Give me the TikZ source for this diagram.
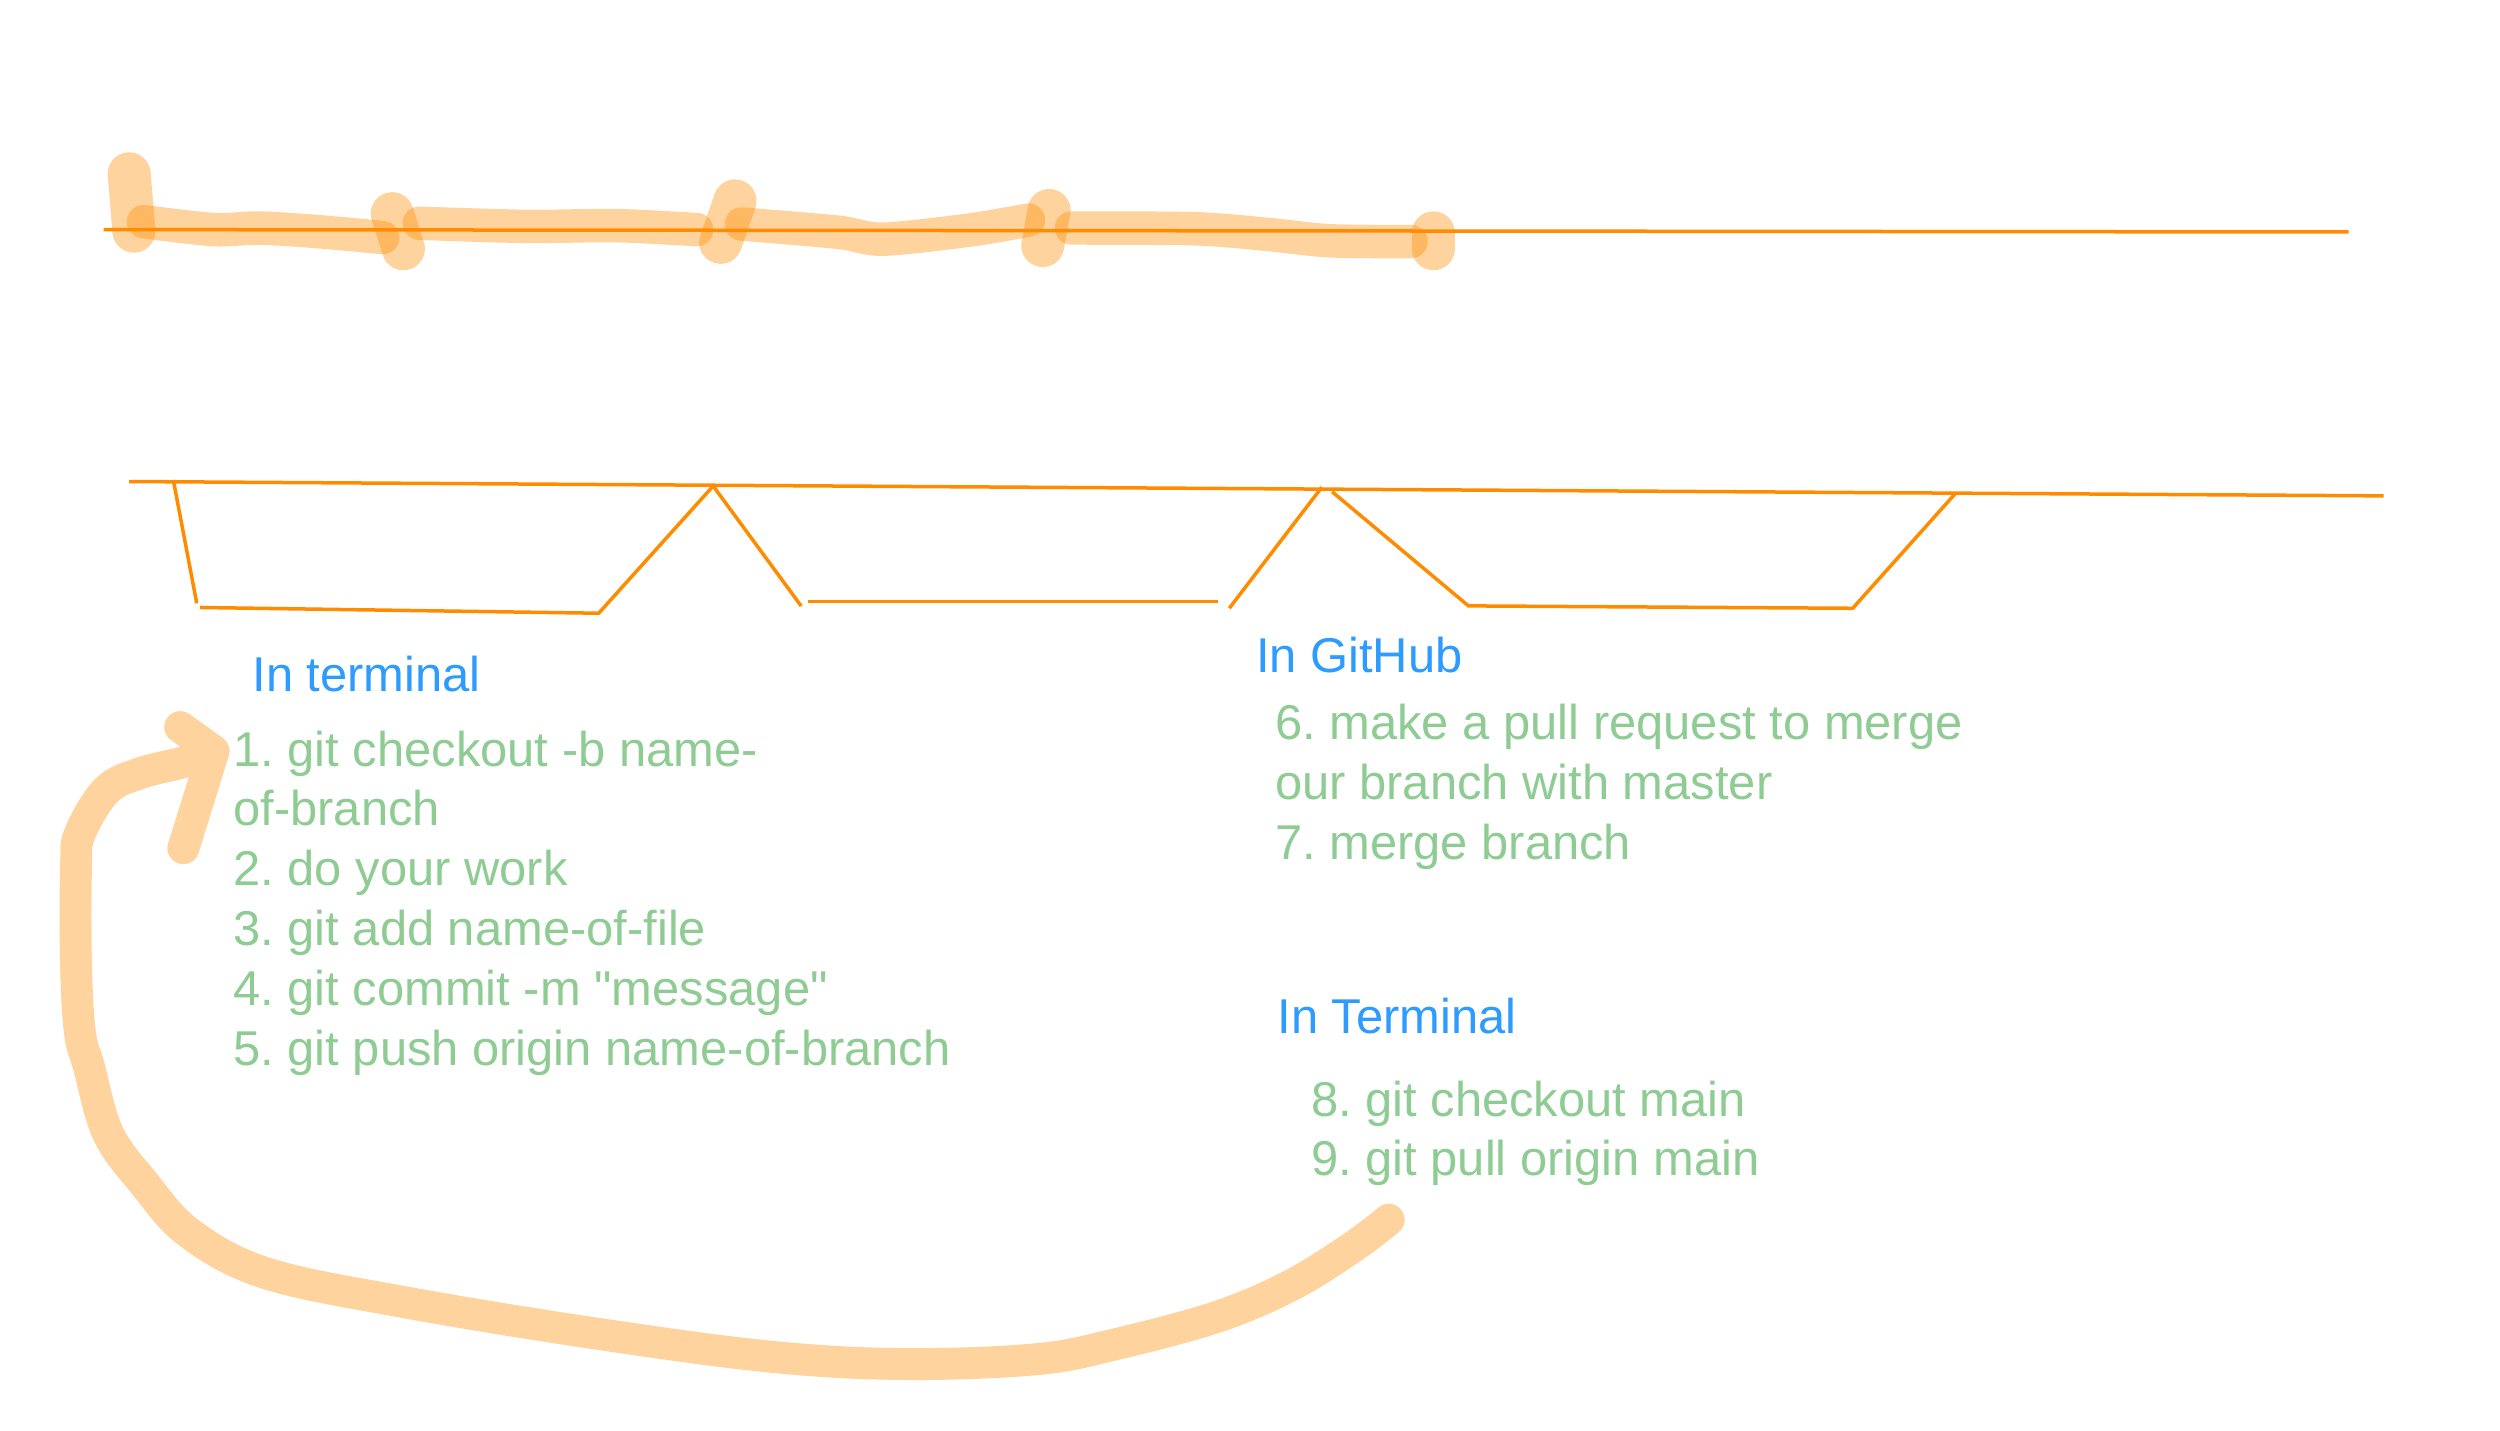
\documentclass[tikz,border=0pt]{standalone}
\usepackage{fontspec}
\setmainfont{Liberation Sans}[Ligatures=TeXOff]
\definecolor{lineorange}{RGB}{255,140,0}
\definecolor{txtblue}{RGB}{46,155,254}
\definecolor{txtgreen}{RGB}{143,204,147}
\definecolor{hlsolid}{RGB}{255,211,158}
\begin{document}
\frenchspacing
\begin{tikzpicture}[x=0.02cm, y=-0.02cm,
  branch/.style={draw=lineorange, line width=1.25pt},
  hl/.style={draw=lineorange, draw opacity=0.38, line width=0.42cm, line cap=round, line join=round},
  blob/.style={hl, line width=0.54cm},
  loopstroke/.style={draw=hlsolid, line width=0.40cm, line cap=round, line join=round},
  lbl/.style={anchor=base west, inner sep=0pt, font=\fontsize{17.45}{21.4}\selectfont},
  head/.style={lbl, text=txtblue},
  item/.style={lbl, text=txtgreen}]
\useasboundingbox (0,0) rectangle (1568,897);

% top (main) line
\coordinate (t0) at (65,144);
\coordinate (t1) at (1473,145.5);
\draw[branch] (t0) -- (t1);

% highlighted commits on main line
\draw[blob] (81,109) -- (84,145);
\draw[hl] plot[smooth] coordinates {(90,139) (134,144) (162,143) (196,145) (230,148) (240,149)};
\draw[blob] (246,134) -- (253,156);
\draw[hl] plot[smooth] coordinates {(263,140) (330,142) (386,141.5) (437,144)};
\draw[blob] (461,126) -- (452,152);
\draw[hl] plot[smooth] coordinates {(465,140.5) (526,145.7) (554,150) (610,144) (645,138)};
\draw[blob] (658,132) -- (654,154);
\draw[hl] plot[smooth] coordinates {(672,143) (750,143.5) (795,147) (834,151) (885,151.5)};
\draw[blob] (899,146) -- (899,156);

% second line with branches
\coordinate (m0) at (81,302);
\coordinate (m1) at (1495,311);
\draw[branch] (m0) -- (m1);
\draw[branch] (108.7,301) -- (123.4,378.4);
\draw[branch] (125.3,381) -- (375.5,384.6) -- (447.3,304.8) -- (502.5,380.1);
\draw[branch] (507,377.3) -- (763.7,377.3);
\draw[branch] (771,381.5) -- (829,305.6);
\draw[branch] (835.5,308.4) -- (921,380) -- (1162,381.5) -- (1226.5,309.4);

% texts
\node[head] (hT1) at (158,434) {In terminal};
\node[item] (s1)  at (146,480.5) {1. git checkout -b name-};
\node[item] (s1b) at (146,518) {of-branch};
\node[item] (s2)  at (146,555.5) {2. do your work};
\node[item] (s3)  at (146,593) {3. git add name-of-file};
\node[item] (s4)  at (146,630.5) {4. git commit -m "message"};
\node[item] (s5)  at (146,668) {5. git push origin name-of-branch};

\node[head] (hG) at (787.5,422) {In GitHub};
\node[item] (s6)  at (799.5,464) {6. make a pull request to merge};
\node[item] (s6b) at (799.5,501.5) {our branch with master};
\node[item] (s7)  at (799.5,539) {7. merge branch};

\node[head] (hT2) at (801,648) {In Terminal};
\node[item] (s8) at (822,700) {8. git checkout main};
\node[item] (s9) at (822,737.5) {9. git pull origin main};

% loop-back arrow
\coordinate (aStart) at (871,765);
\coordinate (aTip) at (134,471);
\draw[loopstroke] plot[smooth, tension=0.6] coordinates {(aStart) (848.6,782) (810,806) (763.6,825.8) (700,843) (649.8,852.5) (564.8,855.5) (479.5,850.5) (366,835.2) (252,816.4) (167,798.6) (118.9,773.5) (90.2,742) (67.7,710.7) (55.8,669) (50.2,648) (47.7,606) (47.7,543.6) (50.2,522.6) (66.9,495.5) (87.8,485) (112.9,478.6) (131,473)}
  (113,456) -- (aTip) -- (115,532);
\end{tikzpicture}
\end{document}
